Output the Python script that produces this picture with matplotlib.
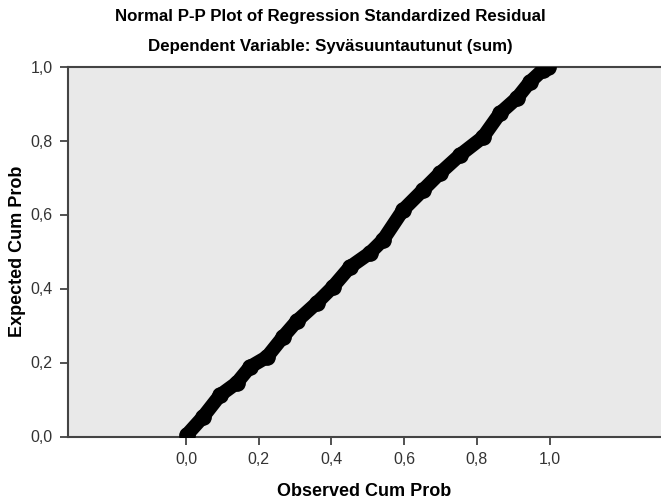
import matplotlib
matplotlib.use("Agg")
import matplotlib.pyplot as plt
from matplotlib.ticker import FuncFormatter

plt.rcParams['font.family'] = ['Liberation Sans', 'DejaVu Sans']

# observed vs expected cumulative probability
observed = [0.003, 0.047, 0.094, 0.140, 0.176, 0.223, 0.267, 0.305, 0.360,
            0.404, 0.451, 0.506, 0.542, 0.597, 0.652, 0.699, 0.754, 0.817,
            0.864, 0.911, 0.946, 0.982, 0.996]
expected = [0.005, 0.053, 0.112, 0.145, 0.188, 0.215, 0.269, 0.312, 0.361,
            0.404, 0.458, 0.496, 0.531, 0.612, 0.666, 0.712, 0.761, 0.809,
            0.874, 0.915, 0.958, 0.991, 1.000]
ticks = [0.0, 0.2, 0.4, 0.6, 0.8, 1.0]

fig = plt.figure(figsize=(6.61, 5.04), dpi=100)
ax = fig.add_axes([68 / 661, 67.5 / 504, 593 / 661, 370 / 504])
ax.set_facecolor('#e9e9e9')

ax.plot(observed, expected, color='black', lw=10,
        solid_capstyle='round', solid_joinstyle='round', zorder=3)
ax.plot(observed, expected, 'o', color='black', ms=11, zorder=3)

ax.set_xlim(-0.3246, 1.3067)
ax.set_ylim(0, 1)
ax.set_xticks(ticks)
ax.set_yticks(ticks)
fmt = FuncFormatter(lambda v, p: f"{v:.1f}".replace('.', ','))
ax.xaxis.set_major_formatter(fmt)
ax.yaxis.set_major_formatter(fmt)
ax.tick_params(axis='both', labelsize=11.5, labelcolor='#333333',
               color='#333333', width=1.2, length=6, pad=5)

for s in ['left', 'bottom', 'top']:
    ax.spines[s].set_color('#444444')
    ax.spines[s].set_linewidth(1.5)
ax.spines['right'].set_visible(False)

fig.text(364 / 661, 1 - 492 / 504, 'Observed Cum Prob',
         ha='center', va='center', fontsize=13, fontweight='bold')
fig.text(18 / 661, 1 - 251 / 504, 'Expected Cum Prob', rotation=90,
         ha='center', va='center', fontsize=13, fontweight='bold')

fig.text(0.5, 1 - 17 / 504, 'Normal P-P Plot of Regression Standardized Residual',
         ha='center', va='center', fontsize=12.2, fontweight='bold')
fig.text(0.5, 1 - 47 / 504, 'Dependent Variable: Syväsuuntautunut (sum)',
         ha='center', va='center', fontsize=12.2, fontweight='bold')

fig.savefig('out.png', dpi=100)
